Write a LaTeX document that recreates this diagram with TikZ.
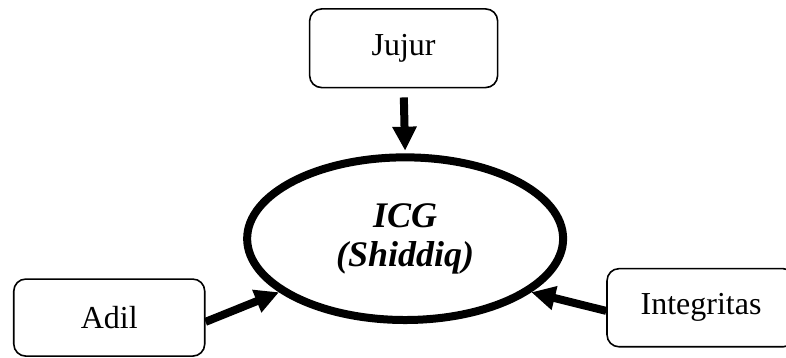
\documentclass[tikz,border=0pt]{standalone}
\usepackage{fontspec}
\setmainfont{Liberation Serif}
\usepackage{tikz}
\usetikzlibrary{arrows.meta, positioning, shapes.geometric}

\tikzset{
    valuebox/.style={draw, line width=0.6pt, rounded corners=4.5pt, minimum width=70.5pt, minimum height=29.5pt, inner sep=0pt, font=\fontsize{12}{14}\selectfont},
    corebox/.style={draw, ellipse, line width=3pt, minimum width=118.5pt, minimum height=61pt, inner sep=0pt, align=center, font=\fontsize{13.5}{14.6}\selectfont\bfseries\itshape},
    flow/.style={line width=3pt, -{Triangle[length=9pt,width=8.6pt]}}
}

\begin{document}
\begin{tikzpicture}
                % Frame of the picture
                \clip (0,0) rectangle (10.36,4.706);
                
                % Centre value
                \node[corebox] (icg) at (5.34,1.56) {ICG\\(Shiddiq)};
                
                % Three values round it
                \node[valuebox] (jujur) at (5.32,4.07) {Jujur};
                \node[valuebox, minimum width=71.6pt, minimum height=28.9pt] (adil) at (1.44,0.52) {Adil};
                \node[valuebox, minimum height=29.3pt] (integritas) at (9.24,0.65) {Integritas};
                
                % Arrows into the centre
                \draw[flow, shorten <=3.4pt, shorten >=1pt] (jujur.south) -- (icg.north);
                \draw[flow] ([yshift=-1.6pt]adil.east) -- (icg.-157);
                \draw[flow] ([yshift=-1.2pt]integritas.west) -- (icg.-23);
            \end{tikzpicture}
\end{document}
